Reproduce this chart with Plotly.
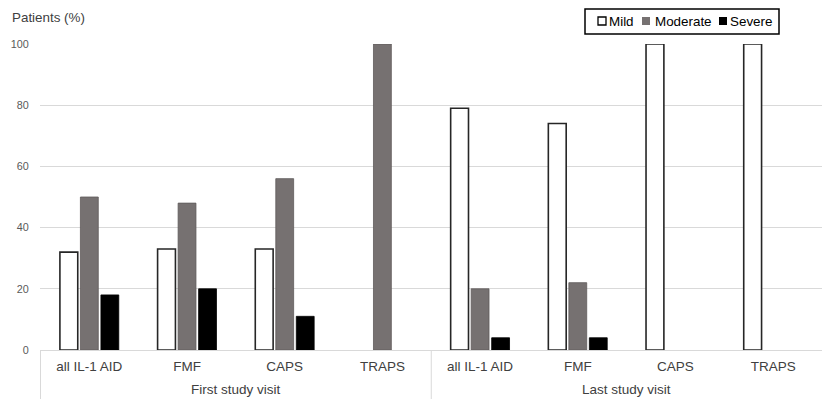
import plotly.graph_objects as go

# Disease groups, repeated for each study visit
visits = ["First study visit", "Last study visit"]
diseases = ["all IL-1 AID", "FMF", "CAPS", "TRAPS"]

# Percent of patients by disease severity
mild = [32, 33, 33, 0, 79, 74, 100, 100]
moderate = [50, 48, 56, 100, 20, 22, 0, 0]
severe = [18, 20, 11, 0, 4, 4, 0, 0]

series_names = ["Mild", "Moderate", "Severe"]
fill_colors = ["#ffffff", "#767171", "#000000"]
line_colors = ["#262626", "#5f5b5b", "#000000"]
line_widths = [1.6, 0.8, 0.8]

# One unique category per (visit, disease); the axis shows only the disease
categories = [f"{v} | {d}" for v in visits for d in diseases]
cat_text = [d for _ in visits for d in diseases]

FONT = "Liberation Sans, Arial, sans-serif"

fig = go.Figure()
for name, vals, fc, lc, lw in zip(series_names, [mild, moderate, severe],
                                  fill_colors, line_colors, line_widths):
    # empty bars get no outline so nothing is drawn on the baseline
    widths = [lw if v > 0 else 0 for v in vals]
    fig.add_trace(go.Bar(
        x=categories, y=vals, name=name,
        marker=dict(color=fc, line=dict(color=lc, width=widths)),
        showlegend=False,
    ))

# Plot-area geometry (pixels) used to place the boxed legend in paper units
W, H = 825, 399
ML, MR, MT, MB = 40, 3, 44, 49
PW, PH = W - ML - MR, H - MT - MB


def px(x):
    return (x - ML) / PW


def py(y):
    return (H - MB - y) / PH


GRID = "#d9d9d9"
shapes = [dict(type="rect", xref="paper", yref="paper",
               x0=px(585), x1=px(779), y0=py(34), y1=py(9),
               line=dict(color="#000000", width=1.5), fillcolor="white")]
annotations = []
legend_items = [(598, 607), (642, 653), (719, 728)]
for (sx, tx), name, fc, lc in zip(legend_items, series_names, fill_colors, line_colors):
    shapes.append(dict(type="rect", xref="paper", yref="paper",
                       x0=px(sx), x1=px(sx + 8), y0=py(25), y1=py(17),
                       fillcolor=fc, line=dict(color="#000000" if fc == "#ffffff" else fc,
                                               width=1.3 if fc == "#ffffff" else 0)))
    annotations.append(dict(xref="paper", yref="paper", x=px(tx), y=py(21.5),
                            text=name, showarrow=False, xanchor="left", yanchor="middle",
                            font=dict(family=FONT, size=13.4, color="#000000")))

annotations.append(dict(xref="paper", yref="paper", x=px(10), y=py(17),
                        text="Patients (%)", showarrow=False, xanchor="left",
                        yanchor="middle",
                        font=dict(family=FONT, size=13.4, color="#404040")))

# Visit group labels and the vertical dividers between visit groups
n = len(diseases)
for i, v in enumerate(visits):
    annotations.append(dict(xref="x", yref="paper", x=i * n + (n - 1) / 2, y=py(389),
                            text=v, showarrow=False, xanchor="center", yanchor="middle",
                            font=dict(family=FONT, size=13.5, color="#404040")))
for i in range(len(visits)):
    shapes.append(dict(type="line", xref="x", yref="paper",
                       x0=i * n - 0.5, x1=i * n - 0.5, y0=0, y1=py(H),
                       line=dict(color=GRID, width=1)))

fig.update_layout(
    width=W, height=H,
    margin=dict(l=ML, r=MR, t=MT, b=MB, pad=0),
    paper_bgcolor="white", plot_bgcolor="white",
    barmode="group", bargap=0.37, bargroupgap=0.13,
    font=dict(family=FONT, color="#404040"),
    shapes=shapes, annotations=annotations,
    showlegend=False,
)
fig.update_xaxes(
    type="category",
    tickmode="array", tickvals=categories, ticktext=cat_text,
    showline=True, linecolor=GRID, linewidth=1,
    ticklabelstandoff=4,
    tickfont=dict(family=FONT, size=13.5, color="#404040"),
    showgrid=False,
)
fig.update_yaxes(
    range=[0, 100], dtick=20,
    showgrid=True, gridcolor=GRID, gridwidth=1,
    zeroline=False, showline=False,
    ticks="outside", ticklen=8, tickcolor="rgba(0,0,0,0)",
    tickfont=dict(family=FONT, size=10.8, color="#595959"),
)

fig.write_html("out.html")
